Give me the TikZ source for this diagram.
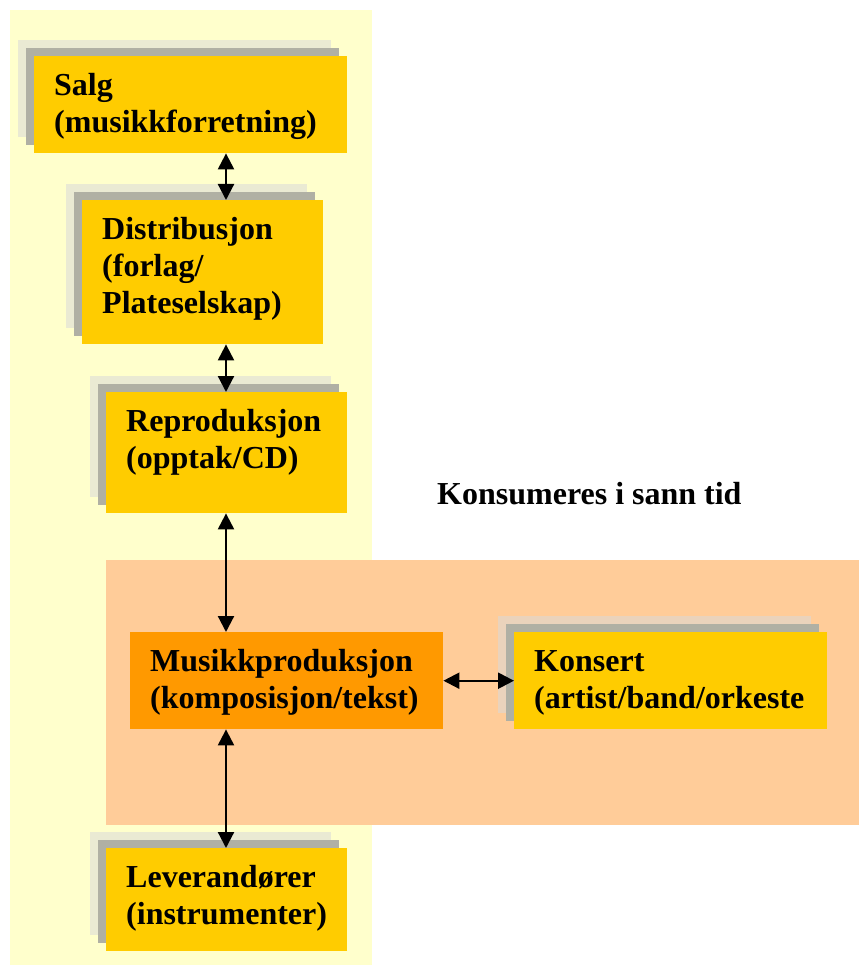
\documentclass[tikz,border=0pt]{standalone}
\usepackage{fontspec}
\setmainfont{Liberation Serif}
\usetikzlibrary{arrows.meta,shadows}
\definecolor{panelyellow}{HTML}{FFFFCC}
\definecolor{panelorange}{HTML}{FFCC99}
\definecolor{boxyellow}{HTML}{FFCC00}
\definecolor{boxorange}{HTML}{FF9900}
\definecolor{shadegray}{HTML}{B0B0A4}
\definecolor{shadelight}{HTML}{D9D9D9}
\tikzset{
  unit/.style={anchor=north west, fill=boxyellow, inner xsep=20pt, inner ysep=0pt,
    text height=39pt, align=left, font=\fontsize{32}{37}\selectfont\bfseries},
  stacked/.style={copy shadow={shadow xshift=-16pt, shadow yshift=16pt, fill=shadelight, fill opacity=0.55, draw=none},
    copy shadow={shadow xshift=-8pt, shadow yshift=8pt, fill=shadegray, draw=none}},
  link/.style={{Triangle[length=16pt,width=16pt]}-{Triangle[length=16pt,width=16pt]}, line width=2.2pt}
}
\begin{document}
\begin{tikzpicture}[x=1pt,y=-1pt]
\useasboundingbox (0,0) rectangle (859,965);
\fill[panelyellow] (10,10) rectangle (372,965);
\fill[panelorange] (106,560) rectangle (859,825);
\node[unit, stacked, text width=273pt, text depth=58pt] (salg) at (34,56) {Salg\\(musikkforretning)};
\node[unit, stacked, text width=201pt, text depth=105pt] (distr) at (82,200) {Distribusjon\\(forlag/\\Plateselskap)};
\node[unit, stacked, text width=201pt, text depth=82pt] (repro) at (106,392) {Reproduksjon\\(opptak/CD)};
\node[unit, fill=boxorange, text width=273pt, text depth=58pt] (musikk) at (130,632) {Musikkproduksjon\\(komposisjon/tekst)};
\node[unit, stacked, text width=273pt, text depth=58pt] (konsert) at (514,632) {Konsert\\(artist/band/orkeste};
\node[unit, stacked, text width=201pt, text depth=64pt] (lever) at (106,848) {Leverandører\\(instrumenter)};
\node[anchor=base west, font=\fontsize{32}{37}\selectfont\bfseries, inner sep=0pt] (sanntid) at (437,504) {Konsumeres i sann tid};
\coordinate (axis) at (226,0);
\draw[link] (salg.south -| axis) -- (distr.north -| axis);
\draw[link] (distr.south -| axis) -- (repro.north -| axis);
\draw[link] (repro.south -| axis) -- (musikk.north -| axis);
\draw[link] (musikk.south -| axis) -- (lever.north -| axis);
\draw[link] (musikk.east) -- (konsert.west);
\end{tikzpicture}
\end{document}
